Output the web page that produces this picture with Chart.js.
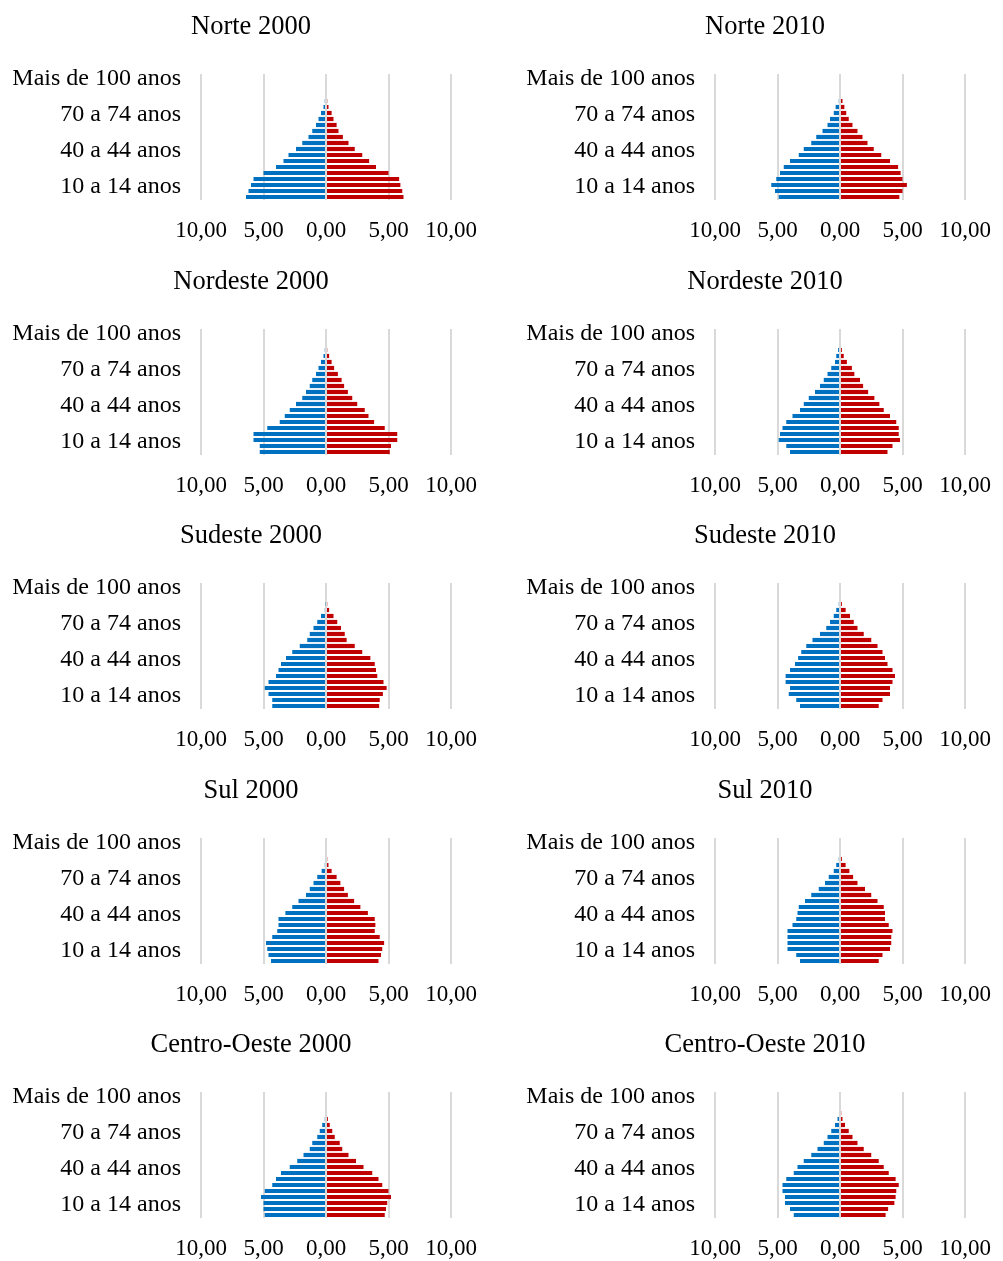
<!DOCTYPE html>
<html>
<head>
<meta charset="utf-8">
<script src="https://cdn.jsdelivr.net/npm/chart.js@4"></script>
<style>
  html, body { margin: 0; padding: 0; background: #fff; overflow: hidden; }
  .panel { position: absolute; width: 502px; height: 255px; }
</style>
</head>
<body>
<div id="wrap"></div>
<script>
// age groups, youngest first (0-4 ... 100+)
const ageGroups = ["0 a 4 anos", "5 a 9 anos", "10 a 14 anos", "15 a 19 anos", "20 a 24 anos",
  "25 a 29 anos", "30 a 34 anos", "35 a 39 anos", "40 a 44 anos", "45 a 49 anos",
  "50 a 54 anos", "55 a 59 anos", "60 a 64 anos", "65 a 69 anos", "70 a 74 anos",
  "75 a 79 anos", "80 a 84 anos", "85 a 89 anos", "90 a 94 anos", "95 a 99 anos",
  "Mais de 100 anos"];

const xTicks = [-10, -5, 0, 5, 10];

// % of population, men (blue) and women (red)
const norte2000H = [6.4, 6.2, 6.0, 5.8, 5.0, 4.0, 3.4, 3.0, 2.4, 1.9, 1.4, 1.1, 0.8, 0.6, 0.4, 0.2, 0.1, 0, 0, 0, 0];
const norte2000M = [6.2, 6.1, 5.95, 5.85, 5.0, 4.0, 3.45, 2.9, 2.3, 1.8, 1.35, 1.0, 0.85, 0.6, 0.45, 0.2, 0.1, 0, 0, 0, 0];
const norte2010H = [4.9, 5.2, 5.5, 5.1, 4.8, 4.5, 4.0, 3.3, 2.9, 2.3, 1.9, 1.4, 1.0, 0.8, 0.5, 0.35, 0.1, 0, 0, 0, 0];
const norte2010M = [4.75, 5.0, 5.35, 5.0, 4.85, 4.65, 4.0, 3.3, 2.7, 2.2, 1.8, 1.4, 1.0, 0.7, 0.5, 0.35, 0.2, 0, 0, 0, 0];
const nordeste2000H = [5.3, 5.3, 5.8, 5.8, 4.7, 3.7, 3.3, 2.9, 2.4, 1.9, 1.6, 1.3, 1.1, 0.8, 0.6, 0.4, 0.2, 0.1, 0, 0, 0];
const nordeste2000M = [5.1, 5.2, 5.7, 5.7, 4.7, 3.85, 3.4, 3.1, 2.5, 2.1, 1.75, 1.45, 1.25, 0.95, 0.65, 0.45, 0.25, 0.1, 0, 0, 0];
const nordeste2010H = [4.0, 4.3, 4.9, 4.8, 4.6, 4.3, 3.8, 3.2, 2.9, 2.5, 2.0, 1.6, 1.3, 1.0, 0.7, 0.4, 0.3, 0.15, 0, 0, 0];
const nordeste2010M = [3.8, 4.2, 4.8, 4.7, 4.7, 4.5, 4.0, 3.5, 3.15, 2.75, 2.25, 1.85, 1.6, 1.15, 0.95, 0.55, 0.3, 0.15, 0, 0, 0];
const sudeste2000H = [4.3, 4.3, 4.6, 4.9, 4.6, 4.0, 3.8, 3.6, 3.2, 2.7, 2.1, 1.5, 1.3, 1.0, 0.7, 0.4, 0.1, 0.05, 0, 0, 0];
const sudeste2000M = [4.25, 4.3, 4.55, 4.85, 4.6, 4.1, 4.0, 3.9, 3.55, 2.9, 2.3, 1.65, 1.5, 1.2, 0.9, 0.6, 0.25, 0.1, 0, 0, 0];
const sudeste2010H = [3.2, 3.5, 4.1, 4.0, 4.35, 4.35, 4.0, 3.6, 3.35, 3.1, 2.7, 2.2, 1.6, 1.1, 0.8, 0.5, 0.3, 0.1, 0, 0, 0];
const sudeste2010M = [3.1, 3.4, 4.0, 4.0, 4.2, 4.4, 4.2, 3.8, 3.6, 3.4, 3.0, 2.5, 1.9, 1.4, 1.1, 0.8, 0.45, 0.15, 0, 0, 0];
const sul2000H = [4.4, 4.6, 4.7, 4.8, 4.3, 3.9, 3.8, 3.8, 3.25, 2.7, 2.2, 1.6, 1.3, 1.0, 0.7, 0.35, 0.1, 0, 0, 0, 0];
const sul2000M = [4.2, 4.4, 4.5, 4.65, 4.3, 3.9, 3.95, 3.9, 3.35, 2.75, 2.25, 1.75, 1.45, 1.15, 0.85, 0.45, 0.2, 0.1, 0, 0, 0];
const sul2010H = [3.2, 3.5, 4.2, 4.2, 4.2, 4.2, 3.8, 3.5, 3.4, 3.3, 2.8, 2.3, 1.7, 1.2, 0.9, 0.5, 0.3, 0.1, 0, 0, 0];
const sul2010M = [3.1, 3.4, 4.0, 4.1, 4.1, 4.2, 3.9, 3.6, 3.6, 3.5, 3.0, 2.5, 2.0, 1.4, 1.05, 0.75, 0.45, 0.15, 0, 0, 0];
const co2000H = [4.9, 5.0, 5.0, 5.2, 4.9, 4.3, 4.0, 3.6, 2.9, 2.3, 1.8, 1.3, 1.1, 0.7, 0.5, 0.3, 0.1, 0, 0, 0, 0];
const co2000M = [4.7, 4.8, 4.9, 5.2, 5.0, 4.5, 4.2, 3.7, 3.0, 2.4, 1.8, 1.3, 1.1, 0.7, 0.5, 0.3, 0.15, 0, 0, 0, 0];
const co2010H = [3.7, 4.0, 4.4, 4.4, 4.6, 4.6, 4.3, 3.7, 3.4, 2.9, 2.3, 1.8, 1.3, 1.0, 0.7, 0.4, 0.2, 0, 0, 0, 0];
const co2010M = [3.65, 3.85, 4.35, 4.45, 4.5, 4.7, 4.45, 3.9, 3.5, 3.1, 2.5, 1.9, 1.4, 1.0, 0.7, 0.4, 0.2, 0.1, 0, 0, 0];

const panels = [
  ["Norte 2000", norte2000H, norte2000M], ["Norte 2010", norte2010H, norte2010M],
  ["Nordeste 2000", nordeste2000H, nordeste2000M], ["Nordeste 2010", nordeste2010H, nordeste2010M],
  ["Sudeste 2000", sudeste2000H, sudeste2000M], ["Sudeste 2010", sudeste2010H, sudeste2010M],
  ["Sul 2000", sul2000H, sul2000M], ["Sul 2010", sul2010H, sul2010M],
  ["Centro-Oeste 2000", co2000H, co2000M], ["Centro-Oeste 2010", co2010H, co2010M]
];

const FONT = "'Liberation Serif', 'Times New Roman', serif";

panels.forEach(function (p, i) {
  const div = document.createElement("div");
  div.className = "panel";
  div.style.left = (i % 2 === 0 ? 0 : 514) + "px";
  div.style.top = Math.round(Math.floor(i / 2) * 254.6) + "px";
  const canvas = document.createElement("canvas");
  div.appendChild(canvas);
  document.getElementById("wrap").appendChild(div);

  new Chart(canvas.getContext("2d"), {
    type: "bar",
    data: {
      labels: ageGroups,
      datasets: [
        { label: "Homens", data: p[1].map((v) => -v), backgroundColor: "#0070C0" },
        { label: "Mulheres", data: p[2], backgroundColor: "#C00000" }
      ]
    },
    options: {
      indexAxis: "y",
      responsive: true,
      maintainAspectRatio: false,
      animation: false,
      layout: { padding: 0 },
      datasets: { bar: { barPercentage: 0.7, categoryPercentage: 1.0 } },
      plugins: {
        legend: { display: false },
        tooltip: { enabled: false },
        title: {
          display: true,
          text: p[0],
          color: "#000",
          font: { family: FONT, size: 26.5, weight: "normal" },
          padding: { top: 11, bottom: 31.2 }
        }
      },
      scales: {
        x: {
          stacked: true,
          min: xTicks[0],
          max: xTicks[xTicks.length - 1],
          afterBuildTicks: function (scale) {
            scale.ticks = xTicks.map((v) => ({ value: v }));
          },
          afterFit: function (scale) { scale.height = 55; },
          grid: { color: "#d9d9d9", lineWidth: 2, drawTicks: false },
          border: { display: false },
          ticks: {
            padding: 17,
            color: "#000",
            font: { family: FONT, size: 23 },
            callback: (v) => Math.abs(v).toFixed(2).replace(".", ",")
          }
        },
        y: {
          stacked: true,
          reverse: true,
          afterFit: function (scale) { scale.width = 201; },
          grid: { display: false, drawTicks: false },
          border: { display: false },
          ticks: {
            autoSkip: false,
            padding: 20,
            labelOffset: 2,
            color: "#000",
            font: { family: FONT, size: 24 },
            callback: function (v, idx) { return idx % 6 === 2 ? ageGroups[idx] : ""; }
          }
        },
        // empty right-hand space so the title centres on the whole panel
        yRight: {
          type: "category",
          labels: ageGroups,
          position: "right",
          afterFit: function (scale) { scale.width = 51; },
          grid: { display: false, drawTicks: false },
          border: { display: false },
          ticks: { display: false }
        }
      }
    }
  });
});
</script>
</body>
</html>
